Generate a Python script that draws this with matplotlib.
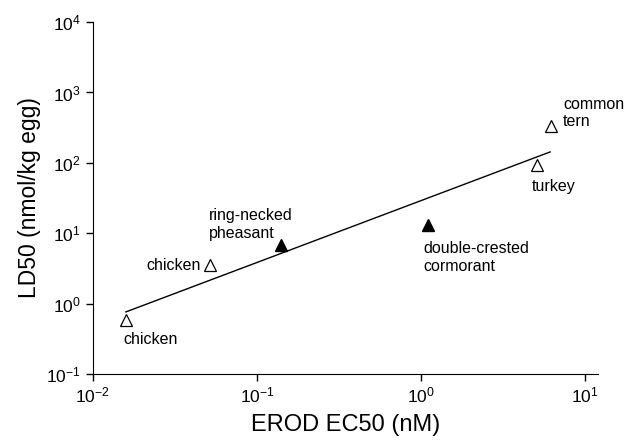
import matplotlib.pyplot as plt

plt.rcParams['font.family'] = ['Liberation Sans', 'DejaVu Sans']
plt.rcParams['axes.unicode_minus'] = False

# open triangles
open_x = [0.0159, 0.052, 5.1, 6.2]
open_y = [0.59, 3.5, 94, 336]
open_names = ['chicken', 'chicken', 'turkey', 'common\ntern']
# filled triangles
fill_x = [0.14, 1.1]
fill_y = [6.9, 12.9]
fill_names = ['ring-necked\npheasant', 'double-crested\ncormorant']
# regression line ends
fit_x = [0.0159, 6.12]
fit_y = [0.76, 143]

fig = plt.figure(figsize=(6.27, 4.43), dpi=100)
ax = fig.add_axes([0.148, 0.156, 0.806, 0.794])

ax.plot(fit_x, fit_y, color='black', lw=1.0)
ax.plot(open_x, open_y, '^', ms=9, mfc='white', mec='black', mew=0.9, ls='none')
ax.plot(fill_x, fill_y, '^', ms=9, mfc='black', mec='black', ls='none')

# label offsets in pixels (dx, dy, ha)
open_off = [(-2, -20, 'left'), (-10, 0, 'right'), (-5, -22, 'left'), (12, 13, 'left')]
fill_off = [(-72, 20, 'left'), (-4, -32, 'left')]
for xs, ys, names, offs in [(open_x, open_y, open_names, open_off),
                            (fill_x, fill_y, fill_names, fill_off)]:
    for x, y, n, (dx, dy, ha) in zip(xs, ys, names, offs):
        ax.annotate(n, (x, y), xytext=(dx, dy), textcoords='offset pixels',
                    ha=ha, va='center', fontsize=11.5, linespacing=1.2)

ax.set_xscale('log')
ax.set_yscale('log')
ax.set_xlim(0.01, 12)
ax.set_ylim(0.1, 1e4)
ax.minorticks_off()
ax.set_xticks([0.01, 0.1, 1, 10])
ax.set_yticks([0.1, 1, 10, 100, 1000, 10000])
ax.tick_params(labelsize=12.5, length=5, width=1, direction='out')

for s in ['top', 'right']:
    ax.spines[s].set_visible(False)

ax.set_xlabel('EROD EC50 (nM)', fontsize=17, labelpad=6)
ax.set_ylabel('LD50 (nmol/kg egg)', fontsize=16.5)

fig.savefig('out.png', dpi=100)
